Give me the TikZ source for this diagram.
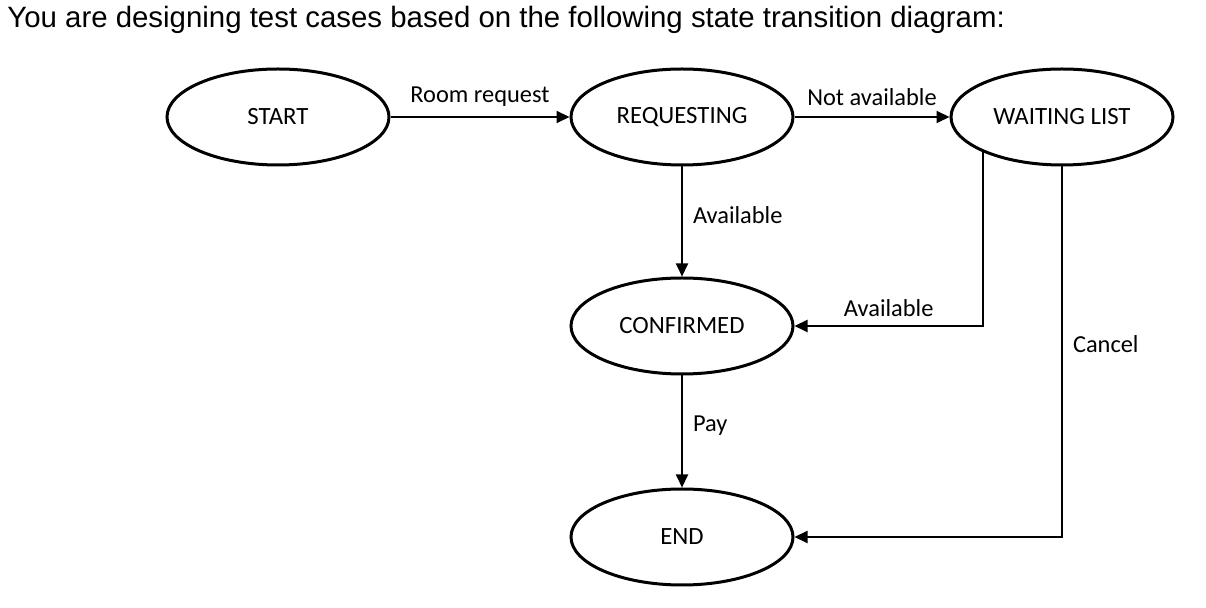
\documentclass[tikz,border=0pt]{standalone}
\usepackage{fontspec}
\setmainfont{Carlito}
\newfontfamily\titlefont{Liberation Sans}
\usepackage{tikz}
\usetikzlibrary{arrows.meta}
\usetikzlibrary{positioning,shapes.geometric,calc}

\begin{document}
\begin{tikzpicture}[x=0.5pt,y=-0.5pt,
    state/.style={ellipse,draw,line width=1.5pt,minimum width=111pt,
      minimum height=48pt,inner sep=0pt,font=\fontsize{12.4}{14}\selectfont},
    trans/.style={-{Triangle[length=6.5pt,width=6pt]},line width=1pt},
    lbl/.style={font=\fontsize{12.2}{14}\selectfont,inner sep=3pt}]
    \useasboundingbox (0,0) rectangle (1206,608);
    \node[anchor=base west,inner sep=0pt,font=\titlefont\fontsize{14.7}{17}\selectfont]
      (title) at (7,28)
      {You are designing test cases based on the following state transition diagram:};
    % states
    \node[state] (start) at (278,117) {START};
    \node[state] (req) at (682,117) {REQUESTING};
    \node[state] (wait) at (1062,117) {WAITING LIST};
    \node[state] (conf) at (682,326) {CONFIRMED};
    \node[state] (end) at (682,537) {END};
    % transitions
    \draw[trans] (start) -- node[lbl,above,yshift=2pt] (roomreq) {Room request} (req);
    \draw[trans] (req) -- node[lbl,above,yshift=2pt] (notavail) {Not available} (wait);
    \draw[trans] (req) -- node[lbl,right,xshift=2pt,yshift=3pt] (avail) {Available} (conf);
    \draw[trans] (wait.204) |- node[lbl,above,pos=0.75,yshift=1pt] (availwait) {Available} (conf.east);
    \draw[trans] (wait.south) |- node[lbl,right,pos=0.24,xshift=2pt] (cancel) {Cancel} (end.east);
    \draw[trans] (conf) -- node[lbl,right,xshift=2pt,yshift=3pt] (pay) {Pay} (end);
  \end{tikzpicture}
\end{document}
